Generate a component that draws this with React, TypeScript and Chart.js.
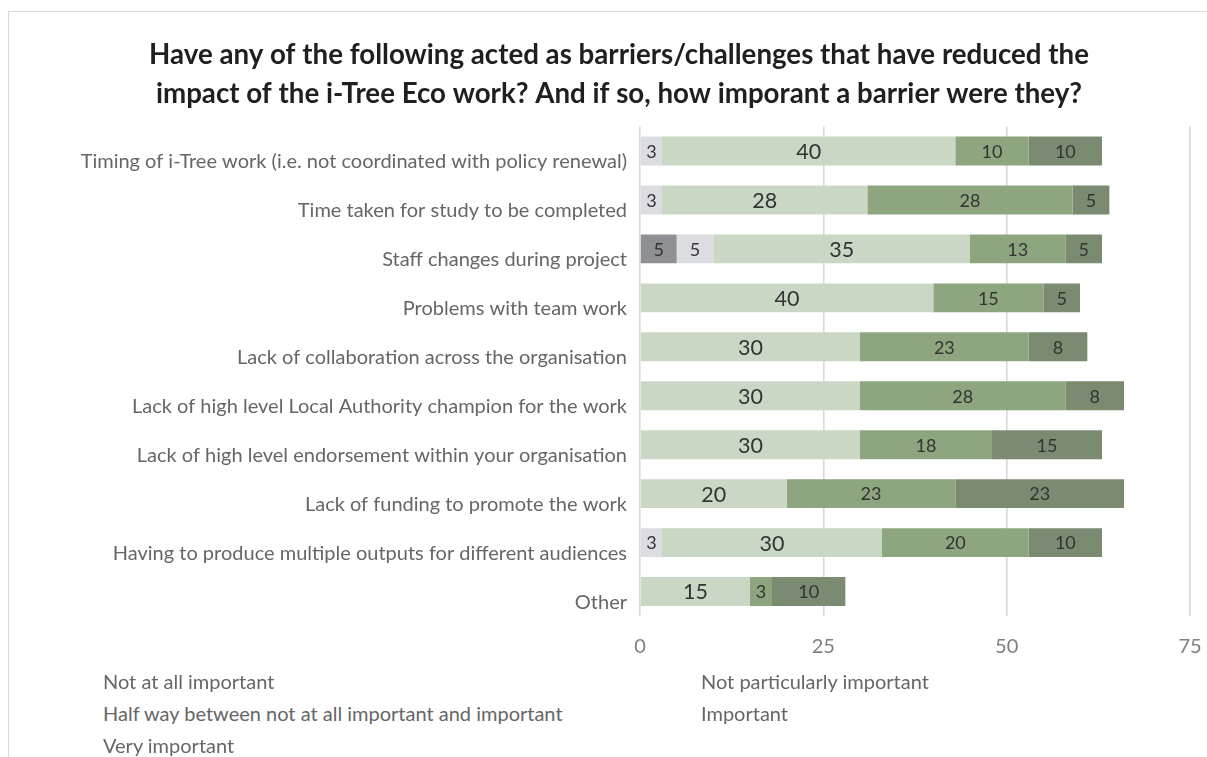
import React, { useEffect, useRef } from "react";
import { Chart, registerables } from "chart.js";

Chart.register(...registerables);

const titleLines = [
  "Have any of the following acted as barriers/challenges that have reduced the",
  "impact of the i-Tree Eco work? And if so, how imporant a barrier were they?",
];

const categories = [
  "Timing of i-Tree work (i.e. not coordinated with policy renewal)",
  "Time taken for study to be completed",
  "Staff changes during project",
  "Problems with team work",
  "Lack of collaboration across the organisation",
  "Lack of high level Local Authority champion for the work",
  "Lack of high level endorsement within your organisation",
  "Lack of funding to promote the work",
  "Having to produce multiple outputs for different audiences",
  "Other",
];

const seriesNames = [
  "Not at all important",
  "Not particularly important",
  "Half way between not at all important and important",
  "Important",
  "Very important",
];

const notAtAll = [null, null, 5, null, null, null, null, null, null, null];
const notParticularly = [3, 3, 5, null, null, null, null, null, 3, null];
const halfWay = [40, 28, 35, 40, 30, 30, 30, 20, 30, 15];
const important = [10, 28, 13, 15, 23, 28, 18, 23, 20, 3];
const veryImportant = [10, 5, 5, 5, 8, 8, 15, 23, 10, 10];

const xTicks = [0, 25, 50, 75];

const seriesValues = [notAtAll, notParticularly, halfWay, important, veryImportant];
const seriesColors = ["#8e9095", "#dcdde0", "#cad7c4", "#8da67f", "#7a8b72"];
const labelSizes = [18, 18, 21.5, 18, 18];

const FONT = "Lato, 'Open Sans', sans-serif";

const valueLabels = {
  id: "valueLabels",
  afterDatasetsDraw(chart: any) {
    const ctx = chart.ctx;
    ctx.save();
    chart.data.datasets.forEach((ds: any, di: number) => {
      const meta = chart.getDatasetMeta(di);
      if (meta.hidden) return;
      meta.data.forEach((bar: any, i: number) => {
        const v = ds.data[i];
        if (v === null || v === undefined) return;
        const props = bar.getProps(["x", "y", "base"], true);
        const cx = (props.x + props.base) / 2;
        ctx.font = `${labelSizes[di]}px ${FONT}`;
        ctx.fillStyle = "#333333";
        ctx.textAlign = "center";
        ctx.textBaseline = "middle";
        ctx.fillText(String(Math.round(v)), cx, props.y + 1);
      });
    });
    ctx.restore();
  },
};

const LEFT_PAD = 48;

export default function App() {
  const canvasRef = useRef<HTMLCanvasElement | null>(null);

  useEffect(() => {
    if (!canvasRef.current) return;
    const chart = new Chart(canvasRef.current, {
      type: "bar",
      data: {
        labels: categories,
        datasets: seriesNames.map((name, i) => ({
          label: name,
          data: seriesValues[i],
          backgroundColor: seriesColors[i],
          borderWidth: 0,
          categoryPercentage: 1,
          barPercentage: 0.59,
        })),
      },
      options: {
        indexAxis: "y",
        responsive: true,
        maintainAspectRatio: false,
        animation: false,
        layout: { padding: { top: 12, left: LEFT_PAD, right: 17, bottom: 0 } },
        plugins: {
          legend: { display: false },
          tooltip: { enabled: false },
          title: {
            display: true,
            text: titleLines,
            color: "#1f1f1f",
            font: { family: FONT, size: 27.7, weight: "bold", lineHeight: 1.4 },
            padding: { top: 24, bottom: 13 },
          },
        },
        scales: {
          x: {
            stacked: true,
            min: 0,
            max: 75,
            afterBuildTicks(scale: any) {
              scale.ticks = xTicks.map((v) => ({ value: v }));
            },
            afterFit(scale: any) {
              scale.height = 54;
              scale.paddingLeft = 0;
              scale.paddingRight = 0;
            },
            grid: { color: "#d9d9d9", lineWidth: 1.6, drawTicks: false },
            border: { display: false },
            ticks: {
              color: "#7f7f7f",
              font: { family: FONT, size: 20 },
              padding: 19,
            },
          },
          y: {
            stacked: true,
            afterFit(scale: any) {
              scale.width = 640 - LEFT_PAD;
            },
            grid: { display: false },
            border: { display: false },
            ticks: {
              color: "#666666",
              font: { family: FONT, size: 20 },
              padding: 5,
              labelOffset: 11,
              autoSkip: false,
            },
          },
        },
      },
      plugins: [valueLabels],
    });
    return () => chart.destroy();
  }, []);

  const legendStyle = (left: number, top: number): React.CSSProperties => ({
    position: "absolute",
    left,
    top,
    transform: "translateY(-50%)",
    fontFamily: FONT,
    fontSize: 20,
    color: "#666666",
    whiteSpace: "nowrap",
  });

  const legendPos = [
    [103, 681],
    [701, 681],
    [103, 713],
    [701, 713],
    [103, 745],
  ];

  return (
    <div
      style={{
        position: "absolute",
        left: 0,
        top: 0,
        width: 1207,
        height: 757,
        background: "#ffffff",
        overflow: "hidden",
      }}
    >
      <div
        style={{
          position: "absolute",
          left: 8,
          top: 11,
          width: 1220,
          height: 800,
          border: "1.5px solid #d9d9d9",
          boxSizing: "border-box",
        }}
      />
      <div style={{ position: "absolute", left: 0, top: 0, width: 1207, height: 670 }}>
        <canvas ref={canvasRef} />
      </div>
      {seriesNames.map((name, i) => (
        <div key={name} style={legendStyle(legendPos[i][0], legendPos[i][1])}>
          {name}
        </div>
      ))}
    </div>
  );
}
